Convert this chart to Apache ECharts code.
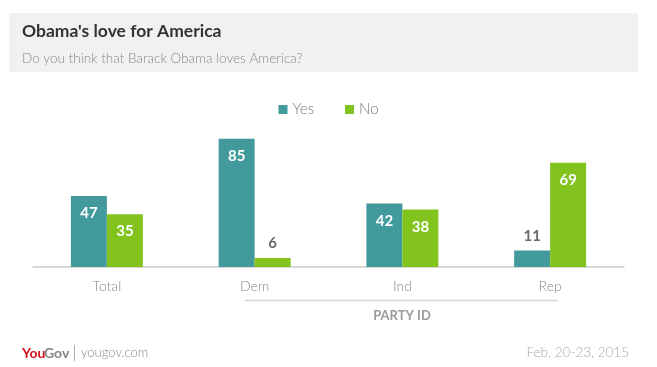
<!DOCTYPE html>
<html><head><meta charset="utf-8">
<script src="https://cdn.jsdelivr.net/npm/echarts@6/dist/echarts.min.js"></script>
<style>html,body{margin:0;padding:0;background:#fff}#c{width:657px;height:367px}</style>
</head><body><div id="c"></div>
<script>
const categories = ['Total', 'Dem', 'Ind', 'Rep'];
const yesValues = [47, 85, 42, 11];
const noValues = [35, 6, 38, 69];
const seriesNames = ['Yes', 'No'];
const titleText = "Obama's love for America";
const subtitleText = 'Do you think that Barack Obama loves America?';
const groupLabel = 'PARTY ID';
const dateText = 'Feb. 20-23, 2015';

const FONT = 'Lato, "Open Sans", sans-serif';
const colors = ['#439a9c', '#82c41d'];

function mk(vals) {
  return vals.map(v => v < 15
    ? { value: v, label: { position: 'top', color: '#6b6b6b', distance: 7 } }
    : { value: v });
}

const chart = echarts.init(document.getElementById('c'), null, { renderer: 'canvas' });
chart.setOption({
  animation: false,
  textStyle: { fontFamily: FONT },
  title: [
    { text: titleText, left: 17, top: 17, textStyle: { fontFamily: FONT, fontSize: 17.5, fontWeight: 'bold', color: '#333' } },
    { text: subtitleText, left: 17, top: 47, textStyle: { fontFamily: FONT, fontSize: 13.5, fontWeight: 300, color: '#8a8a8a' } }
  ],
  legend: {
    top: 97, left: 'center', itemWidth: 9, itemHeight: 9, itemGap: 31, icon: 'rect',
    textStyle: { fontFamily: FONT, fontSize: 15, color: '#777', fontWeight: 300 },
    data: seriesNames
  },
  grid: { left: 33, right: 33, top: 116, bottom: 100 },
  xAxis: {
    type: 'category', data: categories,
    axisLine: { lineStyle: { color: '#cccccc', width: 1.5 } },
    axisTick: { show: false },
    axisLabel: { color: '#8a8a8a', fontSize: 14, fontFamily: FONT, fontWeight: 300, margin: 12 }
  },
  yAxis: { type: 'value', min: 0, max: 100, show: false, splitLine: { show: false } },
  series: [
    { name: seriesNames[0], type: 'bar', barWidth: 36, barGap: '0%', data: mk(yesValues), itemStyle: { color: colors[0] },
      label: { show: true, position: 'insideTop', distance: 10, color: '#fff', fontWeight: 'bold', fontSize: 15, fontFamily: FONT } },
    { name: seriesNames[1], type: 'bar', barWidth: 36, barGap: '0%', data: mk(noValues), itemStyle: { color: colors[1] },
      label: { show: true, position: 'insideTop', distance: 10, color: '#fff', fontWeight: 'bold', fontSize: 15, fontFamily: FONT } }
  ],
  graphic: [
    { type: 'rect', z: -10, shape: { x: 9, y: 13, width: 629, height: 59 }, style: { fill: '#f1f1f1' } },
    { type: 'line', shape: { x1: 245, y1: 300.5, x2: 558, y2: 300.5 }, style: { stroke: '#d5d5d5', lineWidth: 1.5 } },
    { type: 'text', x: 402, y: 316, style: { text: groupLabel, fill: '#9a9a9a', font: 'bold 13px ' + FONT, textAlign: 'center', textVerticalAlign: 'middle' } },
    { type: 'text', x: 22, y: 353, style: { text: 'You', fill: '#d8101a', font: 'bold 14px ' + FONT, textVerticalAlign: 'middle' } },
    { type: 'text', x: 44, y: 353, style: { text: 'Gov', fill: '#858585', font: 'bold 14px ' + FONT, textVerticalAlign: 'middle' } },
    { type: 'line', shape: { x1: 74.5, y1: 345, x2: 74.5, y2: 361 }, style: { stroke: '#aaa', lineWidth: 1 } },
    { type: 'text', x: 81, y: 353, style: { text: 'yougov.com', fill: '#8a8a8a', font: '300 13px ' + FONT, textVerticalAlign: 'middle' } },
    { type: 'text', x: 629, y: 353, style: { text: dateText, fill: '#a8a8a8', font: '300 13.5px ' + FONT, textAlign: 'right', textVerticalAlign: 'middle' } }
  ]
});
</script></body></html>
